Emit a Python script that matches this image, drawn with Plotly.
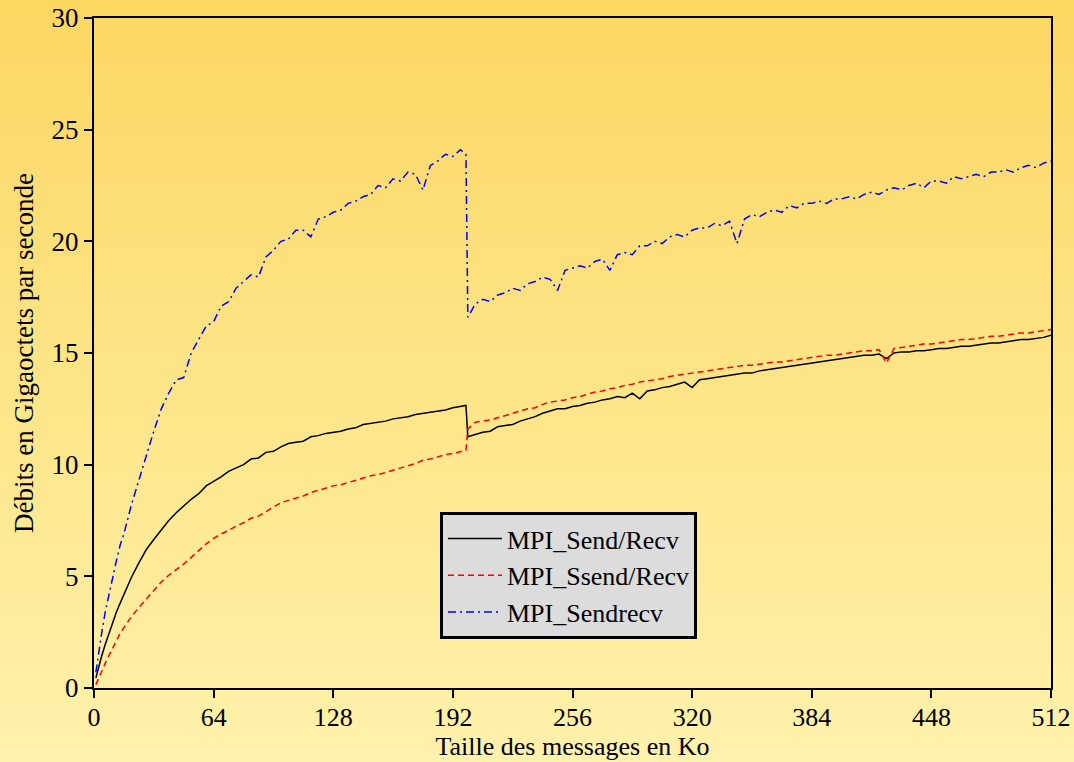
import plotly.graph_objects as go

# ---- data (Ko, Go/s) ----
x_ko = [1, 2, 3, 4, 6, 8, 10, 12, 14, 16] + list(range(20, 197, 4)) + [199] + list(range(200, 513, 4))

send_recv = [
    0.45, 0.8, 1.1, 1.4, 1.95, 2.45, 2.95, 3.4, 3.8, 4.2,
    4.95, 5.6, 6.2, 6.65, 7.1, 7.5, 7.85, 8.15, 8.45, 8.7,
    9.05, 9.25, 9.45, 9.7, 9.85, 10.0, 10.25, 10.3, 10.55, 10.6,
    10.8, 10.95, 11.0, 11.05, 11.25, 11.3, 11.4, 11.45, 11.5, 11.6,
    11.65, 11.8, 11.85, 11.9, 11.95, 12.05, 12.1, 12.15, 12.25, 12.3,
    12.35, 12.4, 12.45, 12.55, 12.6,
    12.65,
    11.25, 11.35, 11.45, 11.5, 11.7, 11.75, 11.8, 11.95, 12.05, 12.15,
    12.3, 12.4, 12.5, 12.5, 12.6, 12.65, 12.75, 12.8, 12.9, 12.95,
    13.05, 13.0, 13.2, 12.95, 13.3, 13.35, 13.45, 13.5, 13.6, 13.7,
    13.45, 13.8, 13.85, 13.9, 13.95, 14.0, 14.05, 14.1, 14.1, 14.2,
    14.25, 14.3, 14.35, 14.4, 14.45, 14.5, 14.55, 14.6, 14.65, 14.7,
    14.75, 14.8, 14.85, 14.9, 14.9, 14.95, 14.75, 15.0, 15.05, 15.05,
    15.1, 15.1, 15.15, 15.2, 15.2, 15.25, 15.3, 15.3, 15.35, 15.4,
    15.45, 15.45, 15.5, 15.55, 15.6, 15.6, 15.65, 15.7, 15.8,
]

ssend_recv = [
    0.15, 0.35, 0.55, 0.75, 1.1, 1.45, 1.8, 2.1, 2.45, 2.7,
    3.2, 3.6, 4.0, 4.4, 4.75, 5.05, 5.3, 5.55, 5.85, 6.15,
    6.45, 6.7, 6.9, 7.05, 7.25, 7.4, 7.6, 7.7, 7.9, 8.1,
    8.3, 8.4, 8.5, 8.6, 8.75, 8.85, 8.95, 9.05, 9.1, 9.2,
    9.3, 9.4, 9.5, 9.55, 9.65, 9.75, 9.85, 9.95, 10.05, 10.2,
    10.25, 10.35, 10.45, 10.5, 10.6,
    10.65,
    11.6, 11.9, 11.95, 12.0, 12.1, 12.2, 12.3, 12.4, 12.5, 12.55,
    12.7, 12.8, 12.85, 12.9, 13.0, 13.05, 13.15, 13.25, 13.3, 13.4,
    13.45, 13.55, 13.6, 13.7, 13.75, 13.8, 13.85, 13.95, 14.0, 14.05,
    14.1, 14.15, 14.2, 14.25, 14.3, 14.35, 14.4, 14.45, 14.45, 14.5,
    14.55, 14.6, 14.6, 14.65, 14.7, 14.75, 14.8, 14.85, 14.9, 14.9,
    14.95, 15.0, 15.05, 15.1, 15.1, 15.15, 14.55, 15.2, 15.25, 15.3,
    15.35, 15.4, 15.4, 15.45, 15.5, 15.55, 15.6, 15.6, 15.65, 15.7,
    15.75, 15.75, 15.8, 15.85, 15.9, 15.9, 15.95, 16.0, 16.05,
]

sendrecv = [
    0.7, 1.3, 1.9, 2.4, 3.4, 4.2, 5.0, 5.7, 6.4, 6.9,
    8.2, 9.3, 10.5, 11.5, 12.5, 13.2, 13.8, 13.9, 15.0, 15.6,
    16.2, 16.4, 17.1, 17.3, 17.9, 18.2, 18.5, 18.4, 19.3, 19.6,
    20.0, 20.1, 20.5, 20.5, 20.2, 21.0, 21.1, 21.3, 21.4, 21.7,
    21.8, 22.0, 22.1, 22.5, 22.4, 22.8, 22.7, 23.1, 23.0, 22.3,
    23.4, 23.6, 23.9, 23.8, 24.1,
    23.9,
    16.6, 17.2, 17.4, 17.3, 17.6, 17.7, 17.9, 17.8, 18.1, 18.2,
    18.4, 18.3, 17.8, 18.7, 18.8, 18.9, 18.8, 19.1, 19.2, 18.7,
    19.4, 19.5, 19.4, 19.8, 19.8, 20.0, 19.9, 20.2, 20.3, 20.2,
    20.5, 20.6, 20.6, 20.8, 20.7, 20.9, 19.9, 21.0, 21.2, 21.1,
    21.3, 21.4, 21.3, 21.6, 21.5, 21.7, 21.7, 21.8, 21.7, 21.9,
    21.9, 22.0, 21.9, 22.1, 22.2, 22.1, 22.3, 22.4, 22.3, 22.5,
    22.6, 22.4, 22.7, 22.7, 22.6, 22.9, 22.8, 22.9, 23.0, 22.9,
    23.1, 23.1, 23.2, 23.1, 23.3, 23.4, 23.3, 23.5, 23.6,
]

series_names = ["MPI_Send/Recv", "MPI_Ssend/Recv", "MPI_Sendrecv"]
x_ticks = [0, 64, 128, 192, 256, 320, 384, 448, 512]
y_ticks = [0, 5, 10, 15, 20, 25, 30]

FONT = "'Liberation Serif', 'Times New Roman', Times, 'DejaVu Serif', serif"
FS = 27

fig = go.Figure()
fig.add_trace(go.Scatter(x=x_ko, y=send_recv, mode="lines", name=series_names[0],
                         line=dict(color="black", width=1.5)))
fig.add_trace(go.Scatter(x=x_ko, y=ssend_recv, mode="lines", name=series_names[1],
                         line=dict(color="#ff0000", width=1.5, dash="6px,4px")))
fig.add_trace(go.Scatter(x=x_ko, y=sendrecv, mode="lines", name=series_names[2],
                         line=dict(color="#0000ff", width=1.5, dash="8px,4px,2px,4px")))

# vertical gradient background built from thin strips
W, H = 1074, 762
ml, mr, mt, mb = 94, 23, 18, 74
pw, ph = W - ml - mr, H - mt - mb
top = (252, 215, 98)
bot = (255, 242, 172)
n = 76
shapes = []
for i in range(n):
    t = (i + 0.5) / n
    c = tuple(round(top[k] + (bot[k] - top[k]) * t) for k in range(3))
    y1px = i * H / n
    y2px = (i + 1) * H / n + 1
    shapes.append(dict(
        type="rect", xref="paper", yref="paper", layer="below",
        x0=-ml / pw - 0.01, x1=1 + mr / pw + 0.01,
        y0=(H - mb - y2px) / ph, y1=(H - mb - y1px) / ph,
        fillcolor="rgb(%d,%d,%d)" % c, line=dict(width=0),
    ))

axis_common = dict(
    showline=True, linecolor="black", linewidth=2, mirror=True,
    ticks="outside", ticklen=8, tickwidth=1.5, tickcolor="black",
    showgrid=False, zeroline=False, automargin=False,
)

fig.update_layout(
    width=W, height=H, autosize=False,
    margin=dict(l=ml, r=mr, t=mt, b=mb, pad=0, autoexpand=False),
    paper_bgcolor="rgb(254,230,135)",
    plot_bgcolor="rgba(0,0,0,0)",
    shapes=shapes,
    font=dict(family=FONT, color="black"),
    xaxis=dict(range=[0, 512], tickvals=x_ticks,
               tickfont=dict(family=FONT, size=26, color="black"),
               ticklabelstandoff=-3,
               title=dict(text="Taille des messages en Ko", font=dict(family=FONT, size=26), standoff=3),
               **axis_common),
    yaxis=dict(range=[0, 30], tickvals=y_ticks,
               tickfont=dict(family=FONT, size=FS, color="black"),
               title=dict(text="Débits en Gigaoctets par seconde", font=dict(family=FONT, size=FS), standoff=10),
               **axis_common),
    legend=dict(x=(440 - ml) / pw, y=(H - mb - 512) / ph, xanchor="left", yanchor="top",
                bgcolor="#dcdcdc", bordercolor="black", borderwidth=3,
                font=dict(family=FONT, size=26, color="black"),
                itemwidth=54),
    showlegend=True,
)

fig.write_html(
    "out.html",
    config={"displayModeBar": False},
    post_script="document.body.style.margin='0';document.body.style.overflow='hidden';"
                "window.dispatchEvent(new Event('resize'));",
)
